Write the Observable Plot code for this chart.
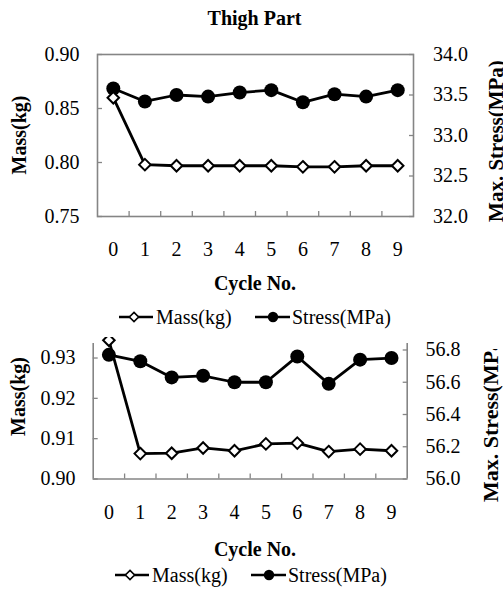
<!DOCTYPE html>
<html><head><meta charset="utf-8">
<script src="https://cdn.jsdelivr.net/npm/d3@7"></script>
<script src="https://cdn.jsdelivr.net/npm/@observablehq/plot@0.6"></script>
<style>
html,body{margin:0;padding:0;background:#fff;overflow:hidden;}
#wrap{position:relative;width:503px;height:590px;overflow:hidden;background:#fff;}
#wrap > svg{position:absolute;left:0;}
</style></head><body><div id="wrap"></div>
<script>
// ---- data ----
const cycles = [0, 1, 2, 3, 4, 5, 6, 7, 8, 9];
const thighMass = [0.860, 0.798, 0.797, 0.797, 0.797, 0.797, 0.796, 0.796, 0.797, 0.797];
const thighStress = [33.58, 33.42, 33.50, 33.48, 33.53, 33.56, 33.41, 33.51, 33.48, 33.56];
const lowerMass = [0.9344, 0.9063, 0.9064, 0.9077, 0.9070, 0.9087, 0.9089, 0.9068, 0.9074, 0.9070];
const lowerStress = [56.77, 56.73, 56.63, 56.64, 56.60, 56.60, 56.76, 56.59, 56.74, 56.75];
const thighMassTicks = [0.75, 0.80, 0.85, 0.90];
const thighStressTicks = [32.0, 32.5, 33.0, 33.5, 34.0];
const lowerMassTicks = [0.90, 0.91, 0.92, 0.93];
const lowerStressTicks = [56.0, 56.2, 56.4, 56.6, 56.8];
const title = "Thigh Part";
const xTitle = "Cycle No.";
const massTitle = "Mass(kg)";
const stressTitle = "Max. Stress(MPa)";
const legendMass = "Mass(kg)";
const legendStress = "Stress(MPa)";

const gray = "#858585";
const serif = "'Liberation Serif','Times New Roman',serif";
const xDomain = [-0.5, 9.5];
const boundaries = cycles.slice(1).map(c => c - 0.5);
const wrap = document.getElementById("wrap");

function panel(o) {
  const rows = cycles.map((c, i) => ({cycle: c, mass: o.mass[i], stress: o.stress[i]}));
  const common = {
    width: 503, height: o.height,
    marginLeft: o.mL, marginRight: o.mR, marginTop: o.mT, marginBottom: o.mB,
    x: {domain: xDomain, axis: null},
    style: {background: "transparent", fontFamily: serif, fontSize: "20px", color: "black", overflow: o.overflow}
  };
  const frameMarks = o.boxed
    ? [Plot.frame({stroke: gray, strokeWidth: 1.6})]
    : [Plot.ruleX(xDomain, {stroke: gray, strokeWidth: 1.6}), Plot.ruleY([o.stressDomain[0]], {stroke: gray, strokeWidth: 1.6})];
  const s = Plot.plot({
    ...common,
    y: {domain: o.stressDomain, label: null, axis: null},
    marks: [
      ...frameMarks,
      Plot.axisY({anchor: "right", ticks: o.stressTicks, tickSize: 5, dx: -5, fill: "none", stroke: gray, strokeWidth: 1.3, label: null}),
      Plot.axisY({anchor: "right", ticks: o.stressTicks, tickSize: 0, tickPadding: o.rightPad, tickFormat: d3.format(".1f"), label: null, fill: "black"}),
      Plot.line(rows, {x: "cycle", y: "stress", stroke: "black", strokeWidth: 2.8}),
      Plot.dot(rows, {x: "cycle", y: "stress", r: 7, fill: "black", stroke: "none"})
    ]
  });
  const m = Plot.plot({
    ...common,
    y: {domain: o.massDomain, label: null, axis: null},
    marks: [
      Plot.axisY({anchor: "left", ticks: o.massTicks, tickSize: 5, dx: 5, fill: "none", stroke: gray, strokeWidth: 1.3, label: null}),
      Plot.axisY({anchor: "left", ticks: o.massTicks, tickSize: 0, tickPadding: o.leftPad, tickFormat: d3.format(".2f"), label: null, fill: "black"}),
      Plot.axisX({anchor: "bottom", ticks: boundaries, tickSize: 5, dy: -5, fill: "none", stroke: gray, strokeWidth: 1.3, label: null}),
      Plot.axisX({anchor: "bottom", ticks: cycles, tickSize: 0, tickPadding: o.labelPad, tickFormat: d => String(d), label: null, fill: "black"}),
      Plot.line(rows, {x: "cycle", y: "mass", stroke: "black", strokeWidth: 2.8}),
      Plot.dot(rows, {x: "cycle", y: "mass", symbol: "diamond2", r: 5.2, fill: "white", stroke: "black", strokeWidth: 2})
    ]
  });
  s.style.top = o.top + "px";
  m.style.top = o.top + "px";
  wrap.appendChild(s);
  wrap.appendChild(m);
}

panel({top: 0, height: 300, mL: 97, mR: 90, mT: 54, mB: 84,
  massDomain: [0.75, 0.90], stressDomain: [32, 34],
  massTicks: thighMassTicks, stressTicks: thighStressTicks,
  mass: thighMass, stress: thighStress, boxed: true,
  leftPad: 18, rightPad: 19.5, labelPad: 25, overflow: "visible"});

panel({top: 337, height: 253, mL: 92.7, mR: 96.3, mT: 6, mB: 111.5,
  massDomain: [0.90, 0.9336], stressDomain: [56.0, 56.8403],
  massTicks: lowerMassTicks, stressTicks: lowerStressTicks,
  mass: lowerMass, stress: lowerStress, boxed: false,
  leftPad: 17.7, rightPad: 18.3, labelPad: 26, overflow: "hidden"});

// ---- overlay texts & legends ----
const ns = "http://www.w3.org/2000/svg";
const ov = document.createElementNS(ns, "svg");
ov.setAttribute("width", 503); ov.setAttribute("height", 590);
ov.style.top = "0px";
ov.style.fontFamily = serif;
wrap.appendChild(ov);
ov.innerHTML = `<defs><clipPath id="cb" clipPathUnits="userSpaceOnUse"><rect x="0" y="349" width="503" height="241"/></clipPath></defs><g id="cbg" clip-path="url(#cb)"></g>`;
const clipGroup = ov.querySelector("#cbg");

function txt(str, x, y, {size = 20, bold = false, anchor = "middle", rotate = false, parent = ov} = {}) {
  const t = document.createElementNS(ns, "text");
  t.textContent = str;
  t.setAttribute("font-size", size);
  if (bold) t.setAttribute("font-weight", "bold");
  t.setAttribute("text-anchor", anchor);
  t.setAttribute("fill", "black");
  if (rotate) t.setAttribute("transform", `translate(${x},${y}) rotate(-90)`);
  else { t.setAttribute("x", x); t.setAttribute("y", y); }
  parent.appendChild(t);
}
function legend(y, x0) {
  const g = document.createElementNS(ns, "g");
  g.setAttribute("transform", `translate(${x0},${y})`);
  g.innerHTML = `
    <line x1="0" y1="0" x2="34" y2="0" stroke="black" stroke-width="2.6"/>
    <path d="M15,-4.6L19.6,0L15,4.6L10.4,0Z" fill="white" stroke="black" stroke-width="1.6"/>
    <line x1="136" y1="0" x2="171" y2="0" stroke="black" stroke-width="2.6"/>
    <circle cx="154" cy="0" r="5.2" fill="black"/>`;
  ov.appendChild(g);
  txt(legendMass, x0 + 37, y + 7, {anchor: "start"});
  txt(legendStress, x0 + 173, y + 7, {anchor: "start"});
}

txt(title, 254.5, 25, {bold: true});
txt(massTitle, 26, 135, {bold: true, rotate: true});
txt(stressTitle, 503, 141, {bold: true, rotate: true, size: 21});
txt(xTitle, 255, 290, {bold: true});
legend(317, 119);

txt(massTitle, 25, 396.5, {bold: true, rotate: true});
txt(stressTitle, 498, 502, {bold: true, rotate: true, size: 22, anchor: "start", parent: clipGroup});
txt(xTitle, 255, 556, {bold: true});
legend(575, 115);
</script></body></html>
